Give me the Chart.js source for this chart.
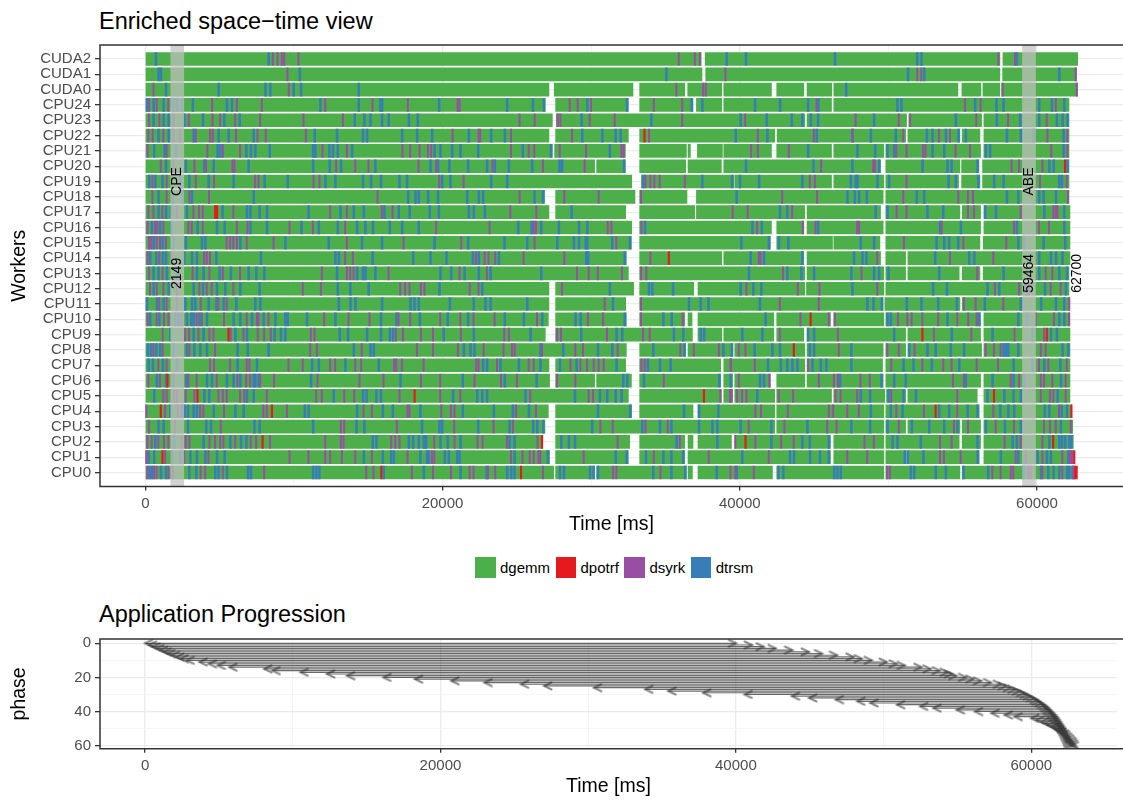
<!DOCTYPE html>
<html>
<head>
<meta charset="utf-8">
<script src="https://cdn.jsdelivr.net/npm/chart.js@4.4.1/dist/chart.umd.min.js"></script>
<style>
  body { margin: 0; width: 1123px; height: 803px; position: relative; overflow: hidden; background: #fff;
         font-family: "Liberation Sans", Arial, Helvetica, sans-serif; }
  canvas { position: absolute; left: 0; }
  .title { position: absolute; left: 99px; font-size: 23.5px; line-height: 1; color: #000; white-space: nowrap; }
  #legend { position: absolute; left: 475px; top: 557px; display: flex; align-items: center; font-size: 15px; color: #000; }
  #legend .item { display: flex; align-items: center; margin-right: 5.5px; }
  #legend .key { width: 20.5px; height: 21px; margin-right: 4.5px; }
</style>
</head>
<body>
<div class="title" style="top:10px">Enriched space−time view</div>
<canvas id="gantt" width="1123" height="545" style="top:0"></canvas>
<div class="title" style="top:602.5px">Application Progression</div>
<div id="legend"></div>
<canvas id="phases" width="1123" height="208" style="top:595px"></canvas>
<script>
// start: data
const workers = ['CUDA2', 'CUDA1', 'CUDA0', 'CPU24', 'CPU23', 'CPU22', 'CPU21', 'CPU20', 'CPU19', 'CPU18',
    'CPU17', 'CPU16', 'CPU15', 'CPU14', 'CPU13', 'CPU12', 'CPU11', 'CPU10', 'CPU9', 'CPU8', 'CPU7', 'CPU6',
    'CPU5', 'CPU4', 'CPU3', 'CPU2', 'CPU1', 'CPU0']
const taskKinds = ['dgemm', 'dpotrf', 'dsyrk', 'dtrsm']

// busy periods of each worker (start, end, start, end, ...) in ms, same order as workers
const dgemmBlocks = [
    [0, 37405, 37675, 57505, 57710, 62740],
    [0, 37460, 37710, 57505, 57690, 62670],
    [0, 27160, 27520, 32815, 33265, 36300, 36500, 38790, 38925, 42135, 42490, 44310, 44530, 46195, 46330, 54680, 54950, 56230, 56365, 57505, 57620, 62740],
    [0, 26915, 27610, 32505, 33265, 36855, 37085, 38790, 38925, 46175, 46330, 62155],
    [0, 27390, 27655, 44375, 44530, 51225, 51380, 56275, 56430, 62155],
    [0, 27160, 27610, 32505, 33265, 42355, 42515, 51160, 51315, 54815, 54970, 56160, 56430, 62155],
    [0, 27390, 27540, 32305, 33265, 36410, 36520, 36680, 37150, 38835, 38925, 42135, 42490, 46175, 46330, 49695, 49830, 56205, 56430, 62155],
    [0, 30235, 30370, 32305, 33265, 36365, 36520, 38765, 38925, 49475, 49830, 54815, 54930, 56095, 56340, 62155],
    [0, 32730, 33380, 39595, 39665, 46175, 46330, 49695, 49830, 54725, 54930, 56160, 56340, 62155],
    [0, 26870, 27610, 32950, 33265, 36450, 37085, 49650, 49830, 62155],
    [0, 27160, 27610, 32325, 33265, 36970, 37085, 44375, 44530, 49475, 49830, 54815, 54970, 56205, 56430, 62220],
    [0, 32730, 33265, 42135, 42490, 44310, 44530, 49650, 49830, 56205, 56430, 62220],
    [0, 32710, 33265, 42065, 42490, 46240, 46330, 49430, 49830, 56160, 56385, 62220],
    [0, 32370, 33265, 38790, 38925, 44310, 44530, 49475, 49830, 51160, 51315, 62220],
    [0, 32505, 33265, 44375, 44530, 49695, 49830, 51160, 51315, 54765, 54970, 56160, 56385, 62155],
    [0, 27160, 27610, 32860, 33265, 36900, 37190, 44375, 44490, 49695, 49830, 62155],
    [0, 27160, 27610, 32325, 33265, 49650, 49765, 54815, 54970, 62220],
    [0, 27120, 27610, 32370, 33265, 36300, 36520, 36790, 37190, 42290, 42490, 46105, 46330, 49695, 49830, 56205, 56430, 62220],
    [0, 26915, 27610, 36815, 37190, 38790, 38925, 42290, 42490, 44310, 44530, 51160, 51315, 56205, 56430, 62220],
    [0, 32370, 33265, 36365, 36520, 39550, 39665, 44375, 44530, 49650, 49830, 51160, 51315, 56275, 56430, 62220],
    [0, 27160, 27610, 32325, 33265, 38720, 38925, 44375, 44530, 49610, 49830, 62220],
    [0, 27205, 27610, 30235, 30370, 32710, 33265, 38720, 38925, 39520, 39665, 42065, 42490, 44375, 44530, 49650, 49830, 56205, 56430, 62220],
    [0, 32505, 33265, 38765, 38925, 39520, 39665, 42355, 42490, 46175, 46330, 49765, 49880, 51160, 51315, 55980, 56430, 62220],
    [0, 27120, 27610, 32730, 33265, 36855, 37190, 42355, 42490, 49695, 49830, 56115, 56430, 62335],
    [0, 26890, 27610, 42355, 42490, 49695, 49830, 51160, 51315, 54815, 54970, 56205, 56430, 62405],
    [0, 26755, 27610, 32590, 33265, 36300, 36520, 36855, 37190, 39440, 39665, 46105, 46330, 49695, 49830, 54765, 54970, 56205, 56430, 62445],
    [0, 27205, 27610, 32505, 33265, 36300, 36520, 46105, 46330, 49695, 49830, 51160, 51315, 56115, 56430, 62450],
    [0, 27475, 27610, 30235, 30370, 36410, 36520, 36815, 37190, 42200, 42490, 49695, 49830, 54815, 54970, 62520]
]

// start times (ms) of the short kernels, one list per worker
const dtrsmStarts = [
    [650, 8240, 39060, 40360, 46350, 51880, 52170, 58590],
    [830, 990, 10330, 35000, 51270, 52350, 61440],
    [1330, 4870, 8020, 8350, 9920, 10420, 14300, 47100],
    [50, 500, 1170, 1840, 2070, 2400, 3140, 5430, 5770, 11720, 14300, 15760, 15870, 19710, 24290, 26020, 26760, 29680, 32350, 36700, 37420, 40970, 42650, 44540, 45230, 50550, 50820, 55780, 57220, 57690, 60090, 60950, 61780],
    [495, 1170, 1510, 2580, 3820, 5250, 6290, 14030, 14680, 15090, 15870, 16320, 17670, 18270, 29300, 33990, 40000, 41750, 43440, 44150, 44720, 45210, 48980, 54480, 57240, 58810, 60090, 61280, 61660, 62000],
    [830, 1510, 3190, 4870, 5550, 7230, 11340, 12840, 14590, 14860, 17220, 18230, 19240, 21710, 23210, 24130, 29340, 30690, 31590, 31920, 39670, 41800, 45120, 47520, 48760, 50440, 52530, 52910, 53810, 54660, 55150, 57920, 58860, 59710, 61730],
    [540, 1240, 2000, 4800, 4990, 6740, 7050, 7340, 8310, 11230, 11380, 12330, 12570, 12890, 13850, 19400, 19800, 20590, 21150, 22340, 25340, 27240, 31200, 44540, 47860, 49050, 49880, 50330, 52910, 53700, 56500, 56790, 61730],
    [1330, 2670, 3910, 4540, 6890, 11230, 12350, 13110, 15420, 19130, 19640, 20400, 21660, 22940, 23460, 24400, 25970, 27810, 27990, 32150, 40360, 44900, 47520, 49320, 52240, 53920, 54190, 55940, 60770, 61060, 62000],
    [200, 610, 1100, 2290, 2900, 4200, 5880, 7970, 9520, 12060, 12730, 14590, 15130, 15800, 17040, 17550, 19910, 20470, 23210, 24290, 33450, 37420, 39420, 39960, 41240, 44150, 47410, 47750, 47860, 49210, 49990, 53990, 54480, 56000, 57060, 57690, 61440, 61620],
    [830, 1800, 2450, 3080, 7230, 17620, 18120, 18340, 18970, 19640, 21600, 22380, 22670, 26130, 26700, 39730, 47190, 47680, 47970, 48490, 51850, 52350, 57920, 58680, 60090, 60390, 61220],
    [830, 1330, 1660, 2740, 5140, 6780, 7010, 7630, 8130, 10930, 13070, 13970, 14640, 16030, 16990, 17730, 19080, 19690, 21710, 22040, 22790, 28620, 42650, 43140, 49090, 49880, 52570, 53630, 56460, 57180, 60430, 61780],
    [380, 940, 1690, 3460, 4760, 5280, 7010, 8130, 10440, 11610, 12890, 14190, 14750, 15260, 16390, 17220, 18340, 25030, 25930, 26580, 27770, 29120, 29680, 33560, 40790, 41420, 45210, 53430, 54820, 58590, 61780],
    [500, 1100, 1840, 2670, 3750, 3980, 6330, 9360, 12280, 14520, 15870, 19400, 21660, 24110, 25640, 27660, 28780, 29120, 29570, 29680, 31360, 32550, 40050, 41900, 42580, 43210, 48080, 48980, 53180, 53700, 54030, 54640, 58680, 59080, 60390, 61840],
    [270, 680, 1120, 1330, 2560, 3080, 3410, 4720, 7720, 12730, 12960, 15240, 17960, 19130, 20200, 21980, 22380, 23730, 29610, 29740, 32200, 40670, 41570, 44150, 47630, 48200, 48460, 53090, 55380, 55720, 60090, 60880, 61220, 61660],
    [500, 830, 1390, 2070, 3410, 3860, 4940, 5700, 6890, 7410, 7950, 12840, 14190, 14590, 14750, 15420, 19800, 20520, 21420, 22380, 23170, 26580, 40560, 43140, 44090, 44940, 47450, 48980, 49320, 49950, 53360, 57690, 60090, 61440, 61960],
    [500, 1510, 3190, 3820, 4760, 5320, 6330, 7630, 12890, 13740, 14970, 19730, 22610, 31200, 33830, 34060, 35450, 40000, 40850, 41390, 47520, 52950, 53880, 56610, 57400, 59200, 60480, 61890],
    [50, 720, 1170, 2630, 3080, 3300, 4200, 4720, 5210, 6060, 7340, 7680, 12960, 13740, 14080, 15870, 17780, 18050, 18340, 20430, 22040, 22830, 23170, 25640, 31410, 36520, 37310, 37830, 41300, 48530, 48940, 49500, 51180, 52170, 53290, 54550, 56430, 58860, 60210, 61220, 61780],
    [270, 880, 1950, 2180, 2740, 3030, 3190, 3590, 4090, 5880, 6330, 7120, 7900, 8690, 9360, 9520, 10820, 12730, 15800, 16840, 18410, 20290, 21660, 24130, 25410, 26650, 28890, 29230, 32200, 34800, 35360, 41680, 49880, 50100, 53920, 56050, 58680, 59260, 61440, 61780],
    [1620, 3190, 3860, 6000, 6780, 8640, 9070, 9360, 13020, 13580, 14860, 15800, 16390, 16610, 20020, 22040, 25860, 29270, 31650, 32030, 35510, 36140, 37310, 37540, 40110, 41460, 44540, 44940, 50330, 54210, 56950, 59640, 60880, 61280],
    [110, 320, 680, 940, 1840, 2740, 3230, 3640, 4090, 6150, 6830, 8240, 13970, 15090, 15310, 21370, 21820, 22090, 26530, 28060, 30400, 31360, 34120, 36220, 38840, 39400, 40940, 42130, 42650, 44650, 44940, 47450, 51350, 52570, 53130, 54140, 55040, 57690, 57850, 58010, 58680, 61660, 62050],
    [160, 450, 1120, 2070, 6150, 7450, 11160, 11610, 13400, 15650, 22670, 22940, 23840, 25080, 26530, 27840, 28960, 31650, 33760, 34570, 35290, 41840, 42700, 43140, 43480, 43820, 44830, 45390, 45770, 47450, 50960, 51630, 52860, 54710, 58370, 59640, 60430, 61510],
    [720, 1330, 1840, 2700, 4090, 4420, 5430, 5880, 6330, 7230, 7340, 7570, 11090, 17110, 21300, 24130, 26270, 32100, 32370, 33490, 38560, 39330, 41300, 41570, 46690, 49480, 50330, 51110, 55150, 56950, 58360, 59080, 61550],
    [540, 3910, 4240, 6780, 7230, 12620, 14590, 14820, 15490, 15800, 20650, 22270, 22610, 22940, 25520, 28850, 30530, 31020, 31590, 31990, 41120, 48080, 48710, 49950, 50960, 51790, 56610, 57740, 58360, 58860, 61330],
    [1620, 2580, 2810, 3190, 3410, 4540, 6000, 6560, 10670, 10930, 14190, 15920, 16590, 18450, 21300, 23390, 24670, 25750, 30400, 32560, 36190, 37200, 38500, 48760, 50100, 50890, 53360, 54030, 55270, 55940, 57470, 58010, 58410, 60470, 60770, 61600, 61960],
    [830, 1170, 2810, 4040, 4360, 7280, 7630, 11230, 14150, 14680, 18560, 19730, 19910, 22340, 24450, 26040, 26310, 26720, 30010, 33380, 34570, 35340, 37200, 38100, 38430, 40000, 42070, 44490, 47450, 48710, 49880, 51520, 52690, 53700, 54590, 56500, 57780, 58860, 61550],
    [610, 1890, 3860, 5660, 6380, 6740, 15240, 15490, 17670, 17960, 18340, 18680, 18830, 19800, 20290, 21150, 24450, 24780, 27930, 28440, 28850, 35690, 38430, 42070, 44150, 44650, 45940, 50220, 50550, 52120, 55940, 58300, 58590, 60770, 61440, 61620, 61840, 62120, 62260],
    [160, 540, 1730, 2290, 2970, 3410, 3980, 4760, 5280, 14640, 15920, 16480, 16660, 18450, 18900, 19010, 20090, 20360, 20920, 21080, 24780, 27020, 31590, 32330, 33630, 34800, 35340, 36130, 40110, 43320, 43590, 44670, 45340, 45930, 51050, 51230, 52300, 55950, 57510, 58680, 59980, 60610, 60880, 62050],
    [225, 380, 990, 1330, 2900, 3370, 4650, 4870, 5430, 6850, 7050, 11230, 11450, 11650, 15980, 18680, 21150, 22900, 24290, 24560, 24780, 27840, 28110, 29860, 30100, 30400, 34120, 35340, 36270, 38390, 39740, 42540, 42870, 46290, 46510, 46740, 51450, 51680, 53130, 53810, 55000, 56660, 59040, 60210, 60700, 61060, 61440, 61960, 62110, 62340]
]
const dsyrkStarts = [
    [8530, 8850, 9140, 9300, 10260, 35850, 36930, 37280, 57360, 58480],
    [9520, 38990, 51900, 52170, 62560],
    [500, 9610, 35690, 37490, 37670, 57650, 62630],
    [200, 720, 1500, 4450, 6110, 7790, 12060, 15240, 17620, 20970, 21100, 28510, 29050, 29950, 34170, 36080, 45120, 55110, 56160, 61220],
    [200, 900, 1840, 2880, 4470, 4990, 6000, 7680, 10600, 13250, 25140, 26150, 27700, 27880, 29860, 31540, 36080, 40320, 47750, 50660, 51420, 55870, 58010, 60610],
    [160, 450, 1170, 1840, 2290, 3350, 4310, 4490, 6060, 7500, 8060, 10760, 20630, 22380, 22490, 24560, 28670, 33850, 41170, 44940, 47560, 50960, 53360, 54100, 60660, 62000],
    [110, 1390, 4130, 5170, 6330, 11880, 13520, 17260, 17780, 18410, 18970, 19190, 24560, 25750, 26130, 27840, 29610, 32000, 32150, 40720, 41170, 43260, 50490, 51180, 52300, 52460, 54480, 55450, 60920, 62000],
    [990, 1840, 3260, 4040, 5820, 5950, 12800, 14080, 14970, 18340, 19530, 23320, 26710, 29520, 45430, 48940, 49050, 58250, 58750, 60320],
    [430, 1390, 3350, 4580, 7340, 7570, 11270, 11680, 19730, 21370, 33610, 33940, 34210, 34570, 36260, 44670, 45010, 51180, 60160, 61960],
    [430, 1390, 2920, 4240, 15580, 25140, 28150, 30460, 33310, 42810, 45160, 50960, 54660, 55310, 55650, 62040],
    [160, 500, 1100, 2070, 3190, 3570, 3820, 5880, 12390, 13520, 15870, 16590, 24510, 26270, 39480, 40490, 43480, 50510, 51180, 55310, 55720, 58860, 61060, 61220, 61330],
    [110, 610, 760, 1170, 2850, 3080, 3820, 6110, 6830, 9660, 11230, 13400, 19530, 23120, 26090, 26240, 31070, 31320, 33340, 41120, 44200, 45050, 47860, 47990, 53540, 58410, 60090, 60770],
    [200, 350, 720, 940, 1330, 5430, 5660, 5880, 6110, 6780, 8580, 13520, 17330, 21210, 26150, 31650, 51000, 55000, 57890],
    [110, 900, 1730, 3910, 4090, 4310, 13400, 13920, 22200, 22790, 23050, 23500, 25410, 28150, 33940, 41240, 41350, 49210, 54100, 57020],
    [200, 1120, 3140, 4270, 5170, 6330, 11830, 13520, 13740, 13970, 16320, 21100, 22940, 29000, 29790, 30400, 32030, 33310, 33670, 42870, 48150, 55940, 60540, 60990],
    [270, 720, 1170, 2070, 3590, 4090, 4420, 5880, 10550, 11770, 17110, 17440, 17730, 18500, 18740, 21780, 22380, 27990, 40410, 43860, 45320, 49210, 57130, 58750, 59420, 60880, 61550],
    [900, 1390, 2070, 3680, 4870, 5430, 30870, 33310, 42650, 45280, 55050, 55830, 57690, 62110],
    [110, 720, 1210, 1510, 2400, 3410, 3750, 5250, 6780, 7460, 7570, 8240, 11990, 13630, 15040, 16990, 17780, 19800, 21150, 22040, 23460, 26310, 29740, 30760, 33310, 36120, 44040, 45950, 46350, 50600, 51230, 51520, 52240, 53310, 54590, 55330, 55900, 59870, 61100, 62110],
    [1120, 2630, 2900, 3530, 4270, 4540, 5700, 6560, 7520, 7950, 8400, 11090, 11340, 16810, 17290, 18500, 19310, 21190, 24110, 24420, 27660, 27930, 31020, 33450, 33900, 42650, 46560, 53020, 55540, 58450, 60430],
    [500, 1120, 2920, 4650, 11050, 11500, 14520, 18230, 19310, 20990, 22720, 24060, 24630, 24810, 26650, 28890, 29410, 31740, 35960, 36860, 38550, 39890, 40340, 46620, 49880, 50660, 51720, 56500, 57060, 57510, 60210, 60540],
    [830, 1390, 4310, 4580, 5660, 6780, 6960, 9590, 10550, 12390, 12730, 14080, 14480, 16700, 16840, 17220, 18680, 22220, 22380, 23620, 25750, 26090, 28560, 29230, 29680, 30130, 30460, 30800, 33340, 33560, 39330, 39370, 40970, 44560, 50150, 52240, 53650, 54210, 55900, 57330, 60090, 60720, 61960],
    [160, 940, 2850, 3410, 4760, 6150, 6740, 7010, 7680, 8620, 11540, 14370, 15980, 18500, 19800, 22110, 23890, 24960, 27660, 28890, 34840, 39890, 41950, 45280, 46290, 46560, 48080, 48710, 54300, 55040, 58190, 58750, 60210, 60430, 60990, 61890],
    [1170, 1390, 1890, 2070, 2670, 3260, 4870, 5170, 5430, 6330, 6620, 8130, 11450, 11830, 13340, 14010, 17060, 19800, 21150, 25860, 29790, 30080, 38650, 39300, 39400, 39780, 40110, 40410, 42580, 43550, 46400, 46740, 47860, 50150, 54590, 60210, 60830, 61060, 61890],
    [20, 1280, 2130, 2400, 3640, 3860, 5250, 7900, 8130, 9480, 14640, 15200, 17600, 17730, 19870, 20520, 20760, 24900, 26240, 41010, 41390, 43190, 45950, 46240, 47190, 47970, 50490, 52350, 54590, 57020, 61440],
    [200, 1950, 5030, 13110, 13340, 16880, 20740, 23390, 24690, 30580, 31410, 33610, 35110, 40560, 42960, 45840, 46470, 50660, 54370, 55310, 57180, 58410, 60430, 60830, 61220, 62230],
    [90, 380, 830, 1210, 1510, 2400, 2670, 2920, 4270, 4650, 4990, 5210, 6000, 7050, 7410, 8350, 12060, 13110, 13290, 16500, 16770, 17060, 19400, 20760, 22310, 22650, 24290, 26350, 31740, 35920, 39660, 41010, 42740, 43590, 48350, 48980, 53430, 54210, 57780, 58860, 60320],
    [20, 1280, 2580, 4200, 9660, 10930, 12060, 12390, 13180, 14080, 15200, 17600, 19240, 19400, 24560, 25340, 25820, 26090, 26420, 26530, 29450, 34170, 37870, 41910, 47190, 48530, 53430, 53700, 54820, 58520, 59200, 60320, 61660, 62150, 62260, 62340],
    [90, 540, 720, 1510, 1800, 3680, 3980, 5170, 7950, 14820, 15310, 17890, 19310, 20520, 21780, 22040, 23010, 23500, 26710, 31430, 31650, 34620, 39330, 39660, 40900, 49880, 50060, 56950, 57510, 58190, 58360, 59380, 59530, 60320, 61660, 62410]
]
const dpotrfStarts = [
    [], [], [], [], [], [33540], [], [61840], [], [], [4650, 4780], [], [], [35180], [], [], [],
    [44720], [5550, 52240, 60610], [43590], [], [1440], [3460, 18070, 37540, 57060],
    [990, 8470, 53130, 62270], [], [7840, 26640, 40340, 61040], [1100, 62460], [15830, 25230, 62520, 62620]
]
const kernelLength = { dtrsm: 125, dsyrk: 90, dpotrf: 100 }

// annotations of the space-time view
const phaseMarkers = [{ label: 'CPE', at: 2149 }, { label: 'ABE', at: 59464 }]
const makespan = 62700
const markerHalfWidth = 460

// application progression: start and end time (ms) of every phase 0..60
const phaseStart = [0, 250, 500, 750, 1000, 1250, 1500, 1800, 2100, 2400, 2800, 3680, 4300, 4910, 5700, 8060,
    8620, 10520, 12310, 13660, 16130, 18260, 20730, 22970, 25440, 27010, 30380, 33850, 35420, 37780, 40580,
    43780, 44950, 46750, 48210, 49100, 50900, 52470, 53360, 54940, 56170, 57290, 58190, 58860, 59980, 60330,
    60650, 60880, 61100, 61330, 61500, 61670, 61840, 62000, 62110, 62230, 62340, 62450, 62530, 62600, 62670]
const phaseEnd = [40020, 41100, 41900, 42710, 43830, 44950, 45850, 46860, 47980, 48540, 49220, 50230, 50900,
    51460, 52580, 53200, 53810, 54370, 54650, 54940, 55610, 56100, 56620, 57290, 57960, 58300, 58640, 58950,
    59250, 59530, 59760, 59990, 60210, 60430, 60600, 60770, 60940, 61100, 61210, 61330, 61440, 61550, 61660,
    61770, 61850, 61920, 62000, 62080, 62150, 62220, 62280, 62340, 62400, 62460, 62520, 62570, 62630, 62680,
    62730, 62780, 62820]

const timeTicks = [0, 10000, 20000, 30000, 40000, 50000, 60000]
const timeLabels = [0, 20000, 40000, 60000]
const phaseTicks = [0, 10, 20, 30, 40, 50, 60]
const phaseLabels = [0, 20, 40, 60]
// end: data

const kindColors = { dgemm: '#4DAF4A', dpotrf: '#E41A1C', dsyrk: '#984EA3', dtrsm: '#377EB8' }
const axisGray = '#4d4d4d'
const gridGray = '#ebebeb'

Chart.defaults.font.family = '"Liberation Sans", Arial, Helvetica, sans-serif'

function rowOf(i) {
    return workers.length - 1 - i
}
function blocksToBars(rows) {
    const bars = []
    rows.forEach(function (row, i) {
        for (let k = 0; k < row.length; k += 2) bars.push({ x: [row[k], row[k + 1]], y: rowOf(i) })
    })
    return bars
}
function startsToBars(rows, length) {
    const bars = []
    rows.forEach(function (row, i) {
        row.forEach(s => bars.push({ x: [s, s + length], y: rowOf(i) }))
    })
    return bars
}

// panel border (the right side is cut off in the picture)
const panelFrame = {
    id: 'panelFrame',
    afterDraw(chart) {
        const { ctx, chartArea: a } = chart
        ctx.save()
        ctx.strokeStyle = '#333333'
        ctx.lineWidth = 1.5
        ctx.beginPath()
        ctx.moveTo(chart.width + 2, a.top)
        ctx.lineTo(a.left, a.top)
        ctx.lineTo(a.left, a.bottom)
        ctx.lineTo(chart.width + 2, a.bottom)
        ctx.stroke()
        ctx.restore()
    }
}

const phaseMarks = {
    id: 'phaseMarks',
    afterDatasetsDraw(chart) {
        const { ctx, chartArea: a, scales: { x, y } } = chart
        ctx.save()
        ctx.fillStyle = 'rgba(192,192,192,0.72)'
        phaseMarkers.forEach(function (m) {
            const l = x.getPixelForValue(m.at - markerHalfWidth)
            const r = x.getPixelForValue(m.at + markerHalfWidth)
            ctx.fillRect(l, a.top, r - l, a.bottom - a.top)
        })
        ctx.fillStyle = '#000'
        ctx.font = '14px "Liberation Sans", Arial, sans-serif'
        ctx.textAlign = 'center'
        ctx.textBaseline = 'middle'
        const upright = function (text, t, worker) {
            ctx.save()
            ctx.translate(x.getPixelForValue(t), y.getPixelForValue(rowOf(workers.indexOf(worker))))
            ctx.rotate(-Math.PI / 2)
            ctx.fillText(text, 0, 0)
            ctx.restore()
        }
        phaseMarkers.forEach(function (m) {
            upright(m.label, m.at, 'CPU19')
            upright(String(m.at), m.at, 'CPU13')
        })
        upright(String(makespan), makespan, 'CPU13')
        ctx.restore()
    }
}

function timeAxis(titlePad, height) {
    return {
        type: 'linear',
        min: -3050,
        max: 65790,
        afterBuildTicks: s => { s.ticks = timeTicks.map(v => ({ value: v })) },
        ticks: {
            callback: v => timeLabels.includes(v) ? String(v) : '',
            color: axisGray, font: { size: 15 }, padding: 4, maxRotation: 0, autoSkip: false
        },
        grid: {
            color: c => timeLabels.includes(c.tick.value) ? gridGray : '#f2f2f2',
            lineWidth: c => timeLabels.includes(c.tick.value) ? 1.3 : 0.8,
            tickColor: c => timeLabels.includes(c.tick.value) ? '#333333' : 'rgba(0,0,0,0)',
            tickLength: 4
        },
        border: { display: false },
        title: { display: true, text: 'Time [ms]', color: '#000', font: { size: 19.5, lineHeight: 1.2 }, padding: { top: 0, bottom: titlePad } },
        afterFit: s => { s.height = height }
    }
}

// start: space-time view
const kindStarts = { dpotrf: dpotrfStarts, dsyrk: dsyrkStarts, dtrsm: dtrsmStarts }
const ganttSets = taskKinds.map(function (kind) {
    return {
        label: kind,
        data: kind === 'dgemm' ? blocksToBars(dgemmBlocks) : startsToBars(kindStarts[kind], kernelLength[kind]),
        backgroundColor: kindColors[kind],
        borderWidth: 0,
        barThickness: 13,
        grouped: false,
        // dgemm underneath, red kernels on top
        order: { dgemm: 3, dtrsm: 2, dsyrk: 1, dpotrf: 0 }[kind]
    }
})

new Chart(document.getElementById('gantt'), {
    type: 'bar',
    data: { datasets: ganttSets },
    options: {
        indexAxis: 'y',
        responsive: false,
        animation: false,
        events: [],
        layout: { padding: { top: 45, right: 0, bottom: 0, left: 0 } },
        plugins: { legend: { display: false }, tooltip: { enabled: false } },
        scales: {
            x: timeAxis(8.6, 58.5),
            y: {
                type: 'linear',
                offset: false,
                min: -0.915,
                max: 27.915,
                afterBuildTicks: s => { s.ticks = workers.map((w, i) => ({ value: i })) },
                ticks: { callback: v => workers[rowOf(v)], color: axisGray, font: { size: 15 }, padding: 4, autoSkip: false },
                grid: { offset: false, color: gridGray, lineWidth: 1.3, tickColor: '#333333', tickLength: 5 },
                border: { display: false },
                title: { display: true, text: 'Workers', color: '#000', font: { size: 19.5, lineHeight: 1.2 }, padding: { top: 8.3, bottom: 0 } },
                afterFit: s => { s.width = 100 }
            }
        }
    },
    plugins: [phaseMarks, panelFrame]
})
// end: space-time view

// legend
const legend = document.getElementById('legend')
taskKinds.forEach(function (kind) {
    const item = document.createElement('div')
    item.className = 'item'
    item.innerHTML = '<div class="key" style="background:' + kindColors[kind] + '"></div><span>' + kind + '</span>'
    legend.appendChild(item)
})

// start: application progression
function arrowHead(dir) {
    const c = document.createElement('canvas')
    c.width = 18
    c.height = 10
    const g = c.getContext('2d')
    g.strokeStyle = 'rgba(60,60,60,0.6)'
    g.lineWidth = 2
    g.lineCap = 'round'
    const back = dir < 0 ? 16.5 : 1.5
    g.beginPath()
    g.moveTo(back, 1.5)
    g.lineTo(9, 5)
    g.lineTo(back, 8.5)
    g.stroke()
    return c
}
const arrowLeft = arrowHead(-1)
const arrowRight = arrowHead(1)

const phaseSets = phaseStart.map(function (s, i) {
    return {
        data: [{ x: s, y: i }, { x: phaseEnd[i], y: i }],
        showLine: true,
        borderColor: 'rgba(35,35,35,0.68)',
        borderWidth: 1.2,
        pointStyle: [arrowLeft, arrowRight],
        pointRadius: 5
    }
})

new Chart(document.getElementById('phases'), {
    type: 'scatter',
    data: { datasets: phaseSets },
    options: {
        responsive: false,
        animation: false,
        events: [],
        layout: { padding: { top: 44, right: 0, bottom: 0, left: 0 } },
        plugins: { legend: { display: false }, tooltip: { enabled: false } },
        scales: {
            x: timeAxis(4.6, 54.3),
            y: {
                type: 'linear',
                reverse: true,
                min: -2.52,
                max: 61.8,
                afterBuildTicks: s => { s.ticks = phaseTicks.map(v => ({ value: v })) },
                ticks: { callback: v => phaseLabels.includes(v) ? String(v) : '', color: axisGray, font: { size: 15 }, padding: 4, autoSkip: false },
                grid: {
                    color: c => phaseLabels.includes(c.tick.value) ? gridGray : '#f2f2f2',
                    lineWidth: c => phaseLabels.includes(c.tick.value) ? 1.3 : 0.8,
                    tickColor: c => phaseLabels.includes(c.tick.value) ? '#333333' : 'rgba(0,0,0,0)',
                    tickLength: 5
                },
                border: { display: false },
                title: { display: true, text: 'phase', color: '#000', font: { size: 19.5, lineHeight: 1.2 }, padding: { top: 8.3, bottom: 0 } },
                afterFit: s => { s.width = 100 }
            }
        }
    },
    plugins: [panelFrame]
})
// end: application progression
</script>
</body>
</html>
